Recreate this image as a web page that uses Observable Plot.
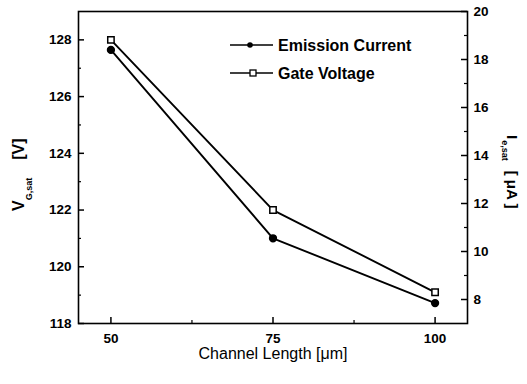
<!DOCTYPE html>
<html><head><meta charset="utf-8">
<script src="https://cdn.jsdelivr.net/npm/d3@7"></script>
<script src="https://cdn.jsdelivr.net/npm/@observablehq/plot@0.6"></script>
<style>body{margin:0;background:#fff}</style>
</head><body><div id="chart"></div>
<script>
// ---- data ----
const channelLength = [50, 75, 100];
const gateVoltage = [128.0, 122.0, 119.1];        // V_G,sat [V]  (left axis)
const emissionCurrent = [18.4, 10.55, 7.85];      // I_e,sat [uA] (right axis)
const xTicks = [50, 75, 100];
const xMinorTicks = [62.5, 87.5];
const leftTicks = [118, 120, 122, 124, 126, 128];
const leftMinorTicks = [119, 121, 123, 125, 127];
const rightTicks = [8, 10, 12, 14, 16, 18, 20];
const rightMinorTicks = [9, 11, 13, 15, 17, 19];
const seriesNames = ["Emission Current", "Gate Voltage"];

const xDomain = [45, 105];
const leftDomain = [118, 129];
const rightDomain = [7, 20];
const toLeft = v => leftDomain[0] + (v - rightDomain[0]) * (leftDomain[1] - leftDomain[0]) / (rightDomain[1] - rightDomain[0]);

const rows = channelLength.map((x, i) => ({x, vg: gateVoltage[i], ie: emissionCurrent[i]}));

const W = 527, H = 384, mL = 78, mR = 60, mT = 11, mB = 61;
const pw = W - mL - mR, ph = H - mT - mB;
const font = "'Liberation Sans', Arial, Helvetica, sans-serif";

const chart = Plot.plot({
  width: W, height: H,
  marginLeft: mL, marginRight: mR, marginTop: mT, marginBottom: mB,
  style: {fontFamily: font, fontSize: "13.5px", fontWeight: "bold", background: "white", color: "black"},
  x: {domain: xDomain},
  y: {domain: leftDomain},
  marks: [
    Plot.axisX(xTicks, {anchor: "bottom", tickSize: 0, tickPadding: 10, label: null}),
    Plot.axisY(leftTicks, {anchor: "left", tickSize: 0, tickPadding: 7, label: null}),
    Plot.text(rightTicks, {y: toLeft, text: d => String(d), frameAnchor: "right", textAnchor: "start", dx: 6}),
    Plot.ruleX(xTicks, {x: d => d, insetTop: ph - 6, stroke: "black", strokeWidth: 1.5}),
    Plot.ruleX(xMinorTicks, {x: d => d, insetTop: ph - 3, stroke: "black", strokeWidth: 1.2}),
    Plot.ruleY(leftTicks, {y: d => d, insetRight: pw - 6, stroke: "black", strokeWidth: 1.5}),
    Plot.ruleY(leftMinorTicks, {y: d => d, insetRight: pw - 3, stroke: "black", strokeWidth: 1.2}),
    Plot.ruleY(rightTicks, {y: toLeft, insetLeft: pw - 6, stroke: "black", strokeWidth: 1.5}),
    Plot.ruleY(rightMinorTicks, {y: toLeft, insetLeft: pw - 3, stroke: "black", strokeWidth: 1.2}),
    Plot.frame({stroke: "black", strokeWidth: 1.6}),
    Plot.line(rows, {x: "x", y: "vg", stroke: "black", strokeWidth: 1.9}),
    Plot.line(rows, {x: "x", y: d => toLeft(d.ie), stroke: "black", strokeWidth: 1.9}),
    Plot.dot(rows, {x: "x", y: d => toLeft(d.ie), r: 3.4, fill: "black", stroke: "black"}),
    Plot.dot(rows, {x: "x", y: "vg", symbol: "square", r: 3.6, fill: "white", stroke: "black", strokeWidth: 1.5})
  ]
});

const svg = d3.select(chart);

// x title
svg.append("text").attr("x", 273).attr("y", 359).attr("text-anchor", "middle")
  .style("font-family", font).style("font-size", "16px").style("font-weight", "normal")
  .text("Channel Length [\u03bcm]");

// left title
const lt = svg.append("text").attr("transform", "translate(24,211) rotate(-90)")
  .attr("text-anchor", "start")
  .style("font-family", font).style("font-weight", "bold");
lt.append("tspan").style("font-size", "16px").text("V");
lt.append("tspan").style("font-size", "9px").attr("dy", 8).text("G,sat");
lt.append("tspan").style("font-size", "16px").attr("dy", -8).attr("dx", 18).text("[V]");

// right title
const rt = svg.append("text").attr("transform", "translate(507,135) rotate(90)")
  .attr("text-anchor", "start")
  .style("font-family", font).style("font-weight", "bold");
rt.append("tspan").style("font-size", "15px").text("I");
rt.append("tspan").style("font-size", "9px").attr("dy", 5).attr("dx", 1).text("e,sat");
rt.append("tspan").style("font-size", "15px").attr("dy", -5).attr("dx", 10).text("[ \u03bcA ]");

// legend
const lg = svg.append("g").style("font-family", font).attr("text-anchor", "start");
const legendY = [45, 73];
lg.append("line").attr("x1", 230).attr("x2", 273).attr("y1", legendY[0]).attr("y2", legendY[0]).attr("stroke", "black").attr("stroke-width", 1.6);
lg.append("circle").attr("cx", 250).attr("cy", legendY[0]).attr("r", 2.8).attr("fill", "black");
lg.append("line").attr("x1", 230).attr("x2", 273).attr("y1", legendY[1]).attr("y2", legendY[1]).attr("stroke", "black").attr("stroke-width", 1.3);
lg.append("rect").attr("x", 250).attr("y", legendY[1] - 3).attr("width", 6).attr("height", 6).attr("fill", "white").attr("stroke", "black").attr("stroke-width", 1.3);
seriesNames.forEach((name, i) => {
  lg.append("text").attr("x", 278).attr("y", legendY[i] + 5.8).attr("text-anchor", "start")
    .style("font-size", "16px").style("font-weight", "bold").text(name);
});

document.getElementById("chart").appendChild(chart);
</script>
</body></html>
